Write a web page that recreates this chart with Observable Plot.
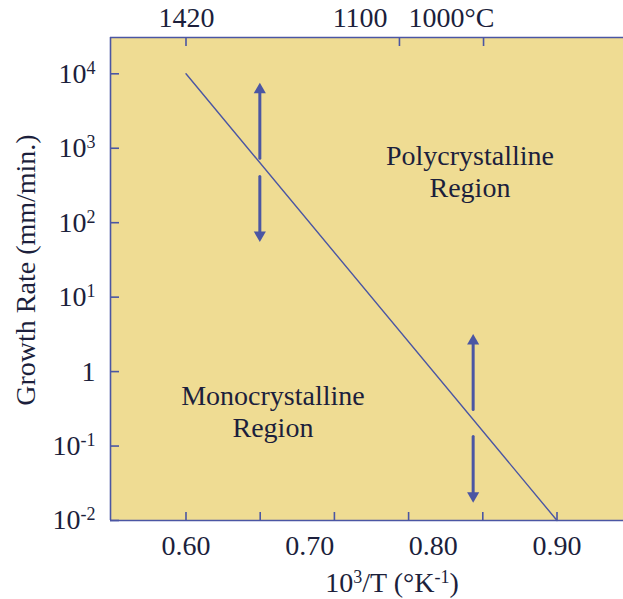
<!DOCTYPE html>
<html><head><meta charset="utf-8">
<script src="https://cdn.jsdelivr.net/npm/d3@7"></script>
<script src="https://cdn.jsdelivr.net/npm/@observablehq/plot@0.6"></script>
<style>html,body{margin:0;padding:0;background:#fff;}</style>
</head><body><div id="chart"></div>
<script>
// ---- data ----
const lineX = [0.60, 0.90];
const lineY = [1e4, 1e-2];
const arrowX = [0.6597, 0.6597, 0.8322, 0.8322];
const arrowFrom = [735, 418, 0.31, 0.134];
const arrowTo = [7480, 55.9, 3.15, 0.0176];
const arrowDir = ["up", "down", "up", "down"];
const bottomTicks = [0.60, 0.66, 0.72, 0.78, 0.84, 0.90];
const bottomLabels = [0.60, 0.70, 0.80, 0.90];
const topTicks = [0.60, 0.7726, 0.8406];
const topLabelPos = [0.6004, 0.7408, 0.8146];
const topLabels = ["1420", "1100", "1000°C"];
const yTicks = [1e4, 1e3, 1e2, 1e1, 1, 1e-1, 1e-2];
const yLabels = ["10^4", "10^3", "10^2", "10^1", "1", "10^-1", "10^-2"];
const regionLabels = ["Polycrystalline\nRegion", "Monocrystalline\nRegion"];
const regionX = [0.8296, 0.6703];
const regionY = [502, 0.300];
const xDomain = [0.53895, 0.95377];
const yDomain = [1e-2, 30730];
const xTitle = "10^3/T (°K^-1)";
const yTitle = "Growth Rate (mm/min.)";

// ---- tables built from the arrays ----
const lineData = lineX.map((x, i) => ({x, y: lineY[i]}));
const arrows = arrowX.map((x, i) => ({x, from: arrowFrom[i], to: arrowTo[i], dir: arrowDir[i]}));
const regions = regionLabels.map((t, i) => ({t, x: regionX[i], y: regionY[i]}));
const yFmt = new Map(yTicks.map((v, i) => [v, yLabels[i]]));
const topFmt = new Map(topLabelPos.map((v, i) => [v, topLabels[i]]));

const BG = "#efdc93", INK = "#4b56a3", TXT = "#1c1f3c";
const FS = 28;

const svg = Plot.plot({
  width: 623, height: 599,
  marginLeft: 110, marginRight: 0, marginTop: 37, marginBottom: 79,
  style: {fontFamily: "'Liberation Serif', 'Times New Roman', serif", fontSize: FS + "px", color: TXT, background: "transparent"},
  x: {domain: xDomain, label: null},
  y: {type: "log", domain: yDomain, label: null},
  marks: [
    Plot.frame({fill: BG, stroke: null}),
    Plot.ruleX([xDomain[0]], {stroke: INK, strokeWidth: 1.6}),
    Plot.ruleY([yDomain[0]], {stroke: INK, strokeWidth: 1.6}),
    Plot.ruleY([yDomain[1]], {stroke: INK, strokeWidth: 1.6}),
    // inward ticks
    Plot.axisX({anchor: "bottom", ticks: bottomTicks, tickSize: -8, tickFormat: () => "", stroke: INK, strokeWidth: 1.6, label: null}),
    Plot.axisX({anchor: "top", ticks: topTicks, tickSize: -8, tickFormat: () => "", stroke: INK, strokeWidth: 1.6, label: null}),
    Plot.axisY({anchor: "left", ticks: yTicks, tickSize: -9, tickFormat: () => "", stroke: INK, strokeWidth: 1.6, label: null}),
    // tick labels
    Plot.axisX({anchor: "bottom", ticks: bottomLabels, tickSize: 0, tickPadding: 15, tickFormat: d3.format(".2f"), label: null, fill: TXT}),
    Plot.axisX({anchor: "top", ticks: topLabelPos, tickSize: 0, tickPadding: 11, tickFormat: d => topFmt.get(d), label: null, fill: TXT}),
    Plot.axisY({anchor: "left", ticks: yTicks, tickSize: 0, tickPadding: 15, tickFormat: d => yFmt.get(d), label: null, fill: TXT}),
    // data line
    Plot.line(lineData, {x: "x", y: "y", stroke: INK, strokeWidth: 1.4}),
    // arrows: shafts + filled heads
    Plot.arrow(arrows, {x: "x", y1: "from", y2: "to", stroke: INK, strokeWidth: 3, headLength: 0, insetEnd: 6}),
    Plot.dot(arrows.filter(d => d.dir === "up"), {x: "x", y: "to", symbol: "triangle", r: 4.5, fill: INK, stroke: null, dy: 6.5}),
    Plot.dot(arrows.filter(d => d.dir === "down"), {x: "x", y: "to", symbol: "triangle", r: 4.5, fill: INK, stroke: null, rotate: 180, dy: -6.5}),
    // region labels
    Plot.text(regions, {x: "x", y: "y", text: "t", lineHeight: 1.17, lineAnchor: "middle", fill: TXT, fontSize: FS}),
    // axis titles
    Plot.text([xTitle], {frameAnchor: "bottom", textAnchor: "middle", dx: 25, dy: 71, lineAnchor: "bottom", fill: TXT, fontSize: FS}),
    Plot.text([yTitle], {frameAnchor: "left", textAnchor: "middle", rotate: -90, dx: -84, dy: -9, lineAnchor: "middle", fill: TXT, fontSize: FS})
  ]
});

// superscripts: "^n" -> raised smaller tspan
d3.select(svg).selectAll("text").each(function() {
  const el = this;
  if (el.querySelector("tspan")) return;
  const s = el.textContent;
  if (!s.includes("^")) return;
  el.textContent = "";
  const parts = s.split(/\^(-?\d+)/);
  let raised = false;
  parts.forEach((p, i) => {
    if (i % 2 === 1) {
      const t = document.createElementNS("http://www.w3.org/2000/svg", "tspan");
      t.textContent = p;
      t.setAttribute("font-size", "18px");
      t.setAttribute("dy", "-9");
      el.appendChild(t);
      raised = true;
    } else if (p) {
      const t = document.createElementNS("http://www.w3.org/2000/svg", "tspan");
      t.textContent = p;
      if (raised) { t.setAttribute("dy", "9"); raised = false; }
      el.appendChild(t);
    }
  });
});

document.getElementById("chart").appendChild(svg);
</script>
</body></html>
